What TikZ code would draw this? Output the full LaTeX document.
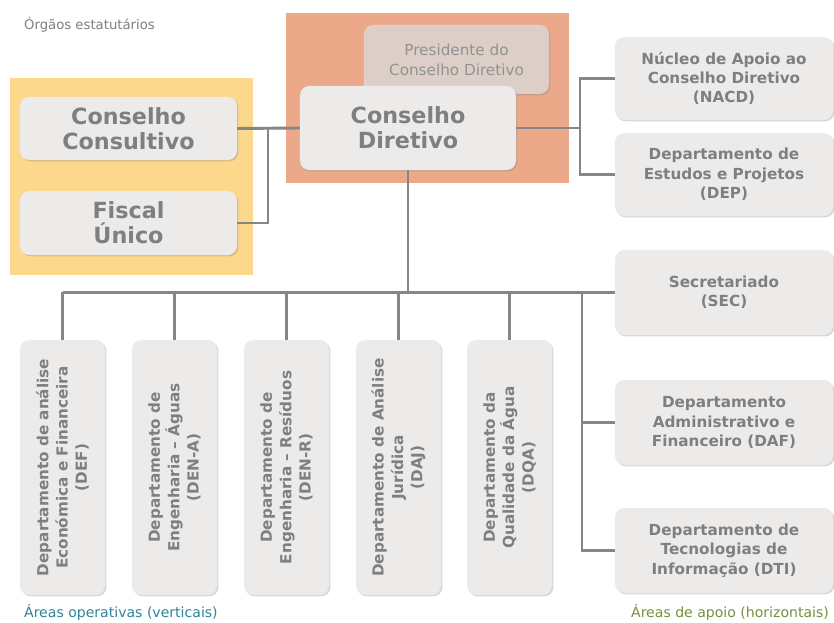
\documentclass[tikz,border=0pt]{standalone}
\usepackage{fontspec}
\setmainfont{DejaVu Sans}
\usetikzlibrary{shadows}

\definecolor{fundoamarelo}{HTML}{FBD88C}
\definecolor{fundosalmao}{HTML}{EBA98A}
\definecolor{caixa}{HTML}{EDEBE9}
\definecolor{caixapres}{HTML}{E0D5CF}
\definecolor{texto}{HTML}{7F7F7F}
\definecolor{linha}{HTML}{868686}
\definecolor{azul}{HTML}{31849B}
\definecolor{verde}{HTML}{76923C}

\tikzset{
  caixabase/.style={rounded corners=8pt, fill=caixa, text=texto, align=center,
    inner sep=2pt, drop shadow={shadow xshift=1.2pt, shadow yshift=-1.2pt, opacity=0.3}},
  grande/.style={caixabase, font=\bfseries\fontsize{19}{21.5}\selectfont},
  media/.style={caixabase, font=\bfseries\fontsize{13}{16.5}\selectfont},
  vertical/.style={media, rotate=90, minimum width=7.65cm, minimum height=2.55cm},
  lateral/.style={media, minimum width=6.54cm},
  ligacao/.style={draw=linha, line width=2.5pt}
}

\begin{document}
\begin{tikzpicture}[x=0.03cm, y=-0.03cm]
\useasboundingbox[fill=white] (0,0) rectangle (834,623);

% fundos
\fill[fundoamarelo] (10,78) rectangle (253,275);
\fill[fundosalmao] (286,13) rectangle (569,183);

\node[anchor=west, text=texto, font=\fontsize{11.3}{13}\selectfont] (titulo) at (20,25) {Órgãos estatutários};

% orgaos estatutarios
\node[grande, minimum width=6.51cm, minimum height=1.89cm] (cc) at (128.5,128.5) {Conselho\\Consultivo};
\node[grande, minimum width=6.51cm, minimum height=1.92cm] (fu) at (128.5,223) {Fiscal\\Único};
\node[caixabase, fill=caixapres, fill opacity=0.9, text opacity=1, text=texto!85,
      font=\fontsize{13}{17}\selectfont, minimum width=5.55cm, minimum height=2.07cm] (pcd) at (456.5,59.5) {Presidente do\\Conselho Diretivo};
\node[grande, minimum width=6.48cm, minimum height=2.52cm] (cd) at (408,128) {Conselho\\Diretivo};

% apoio ao conselho
\node[lateral, minimum height=2.49cm] (nacd) at (724,78.5) {Núcleo de Apoio ao\\Conselho Diretivo\\(NACD)};
\node[lateral, minimum height=2.49cm] (dep) at (724,174.5) {Departamento de\\Estudos e Projetos\\(DEP)};

% areas de apoio
\node[lateral, minimum height=2.55cm] (sec) at (724,292.5) {Secretariado\\(SEC)};
\node[lateral, minimum height=2.55cm] (daf) at (724,422.5) {Departamento\\Administrativo e\\Financeiro (DAF)};
\node[lateral, minimum height=2.55cm] (dti) at (724,550.5) {Departamento de\\Tecnologias de\\Informação (DTI)};

% areas operativas
\node[vertical] (def) at (62.5,467.5) {Departamento de análise\\Económica e Financeira\\(DEF)};
\node[vertical] (dena) at (174.5,467.5) {Departamento de\\Engenharia – Águas\\(DEN-A)};
\node[vertical] (denr) at (286.5,467.5) {Departamento de\\Engenharia – Resíduos\\(DEN-R)};
\node[vertical] (daj) at (398.5,467.5) {Departamento de Análise\\Jurídica\\(DAJ)};
\node[vertical] (dqa) at (509.5,467.5) {Departamento da\\Qualidade da Água\\(DQA)};

% ligacoes
\coordinate (j1) at (268,128);
\coordinate (j2) at (580,128);
\coordinate (j3) at (582,293);

\draw[ligacao] (cc.east) -- (cd.west);
\draw[ligacao] (fu.east) -| (j1);
\draw[ligacao] (cd.east) -- (j2);
\draw[ligacao] (nacd.west) -| (dep.west -| j2) -- (dep.west);

\draw[ligacao] (cd.south) -- (cd.south |- sec.west);
\draw[ligacao] (def.east |- sec.west) -- (sec.west);
\foreach \n in {def,dena,denr,daj,dqa}
  \draw[ligacao] (\n.east) -- (\n.east |- sec.west);
\draw[ligacao] (j3) |- (dti.west);
\draw[ligacao] (j3 |- daf.west) -- (daf.west);

% legendas
\node[anchor=west, text=azul, font=\fontsize{12}{14}\selectfont] (operativas) at (20,612) {Áreas operativas (verticais)};
\node[anchor=east, text=verde, font=\fontsize{12}{14}\selectfont] (apoio) at (833,612) {Áreas de apoio (horizontais)};
\end{tikzpicture}
\end{document}
